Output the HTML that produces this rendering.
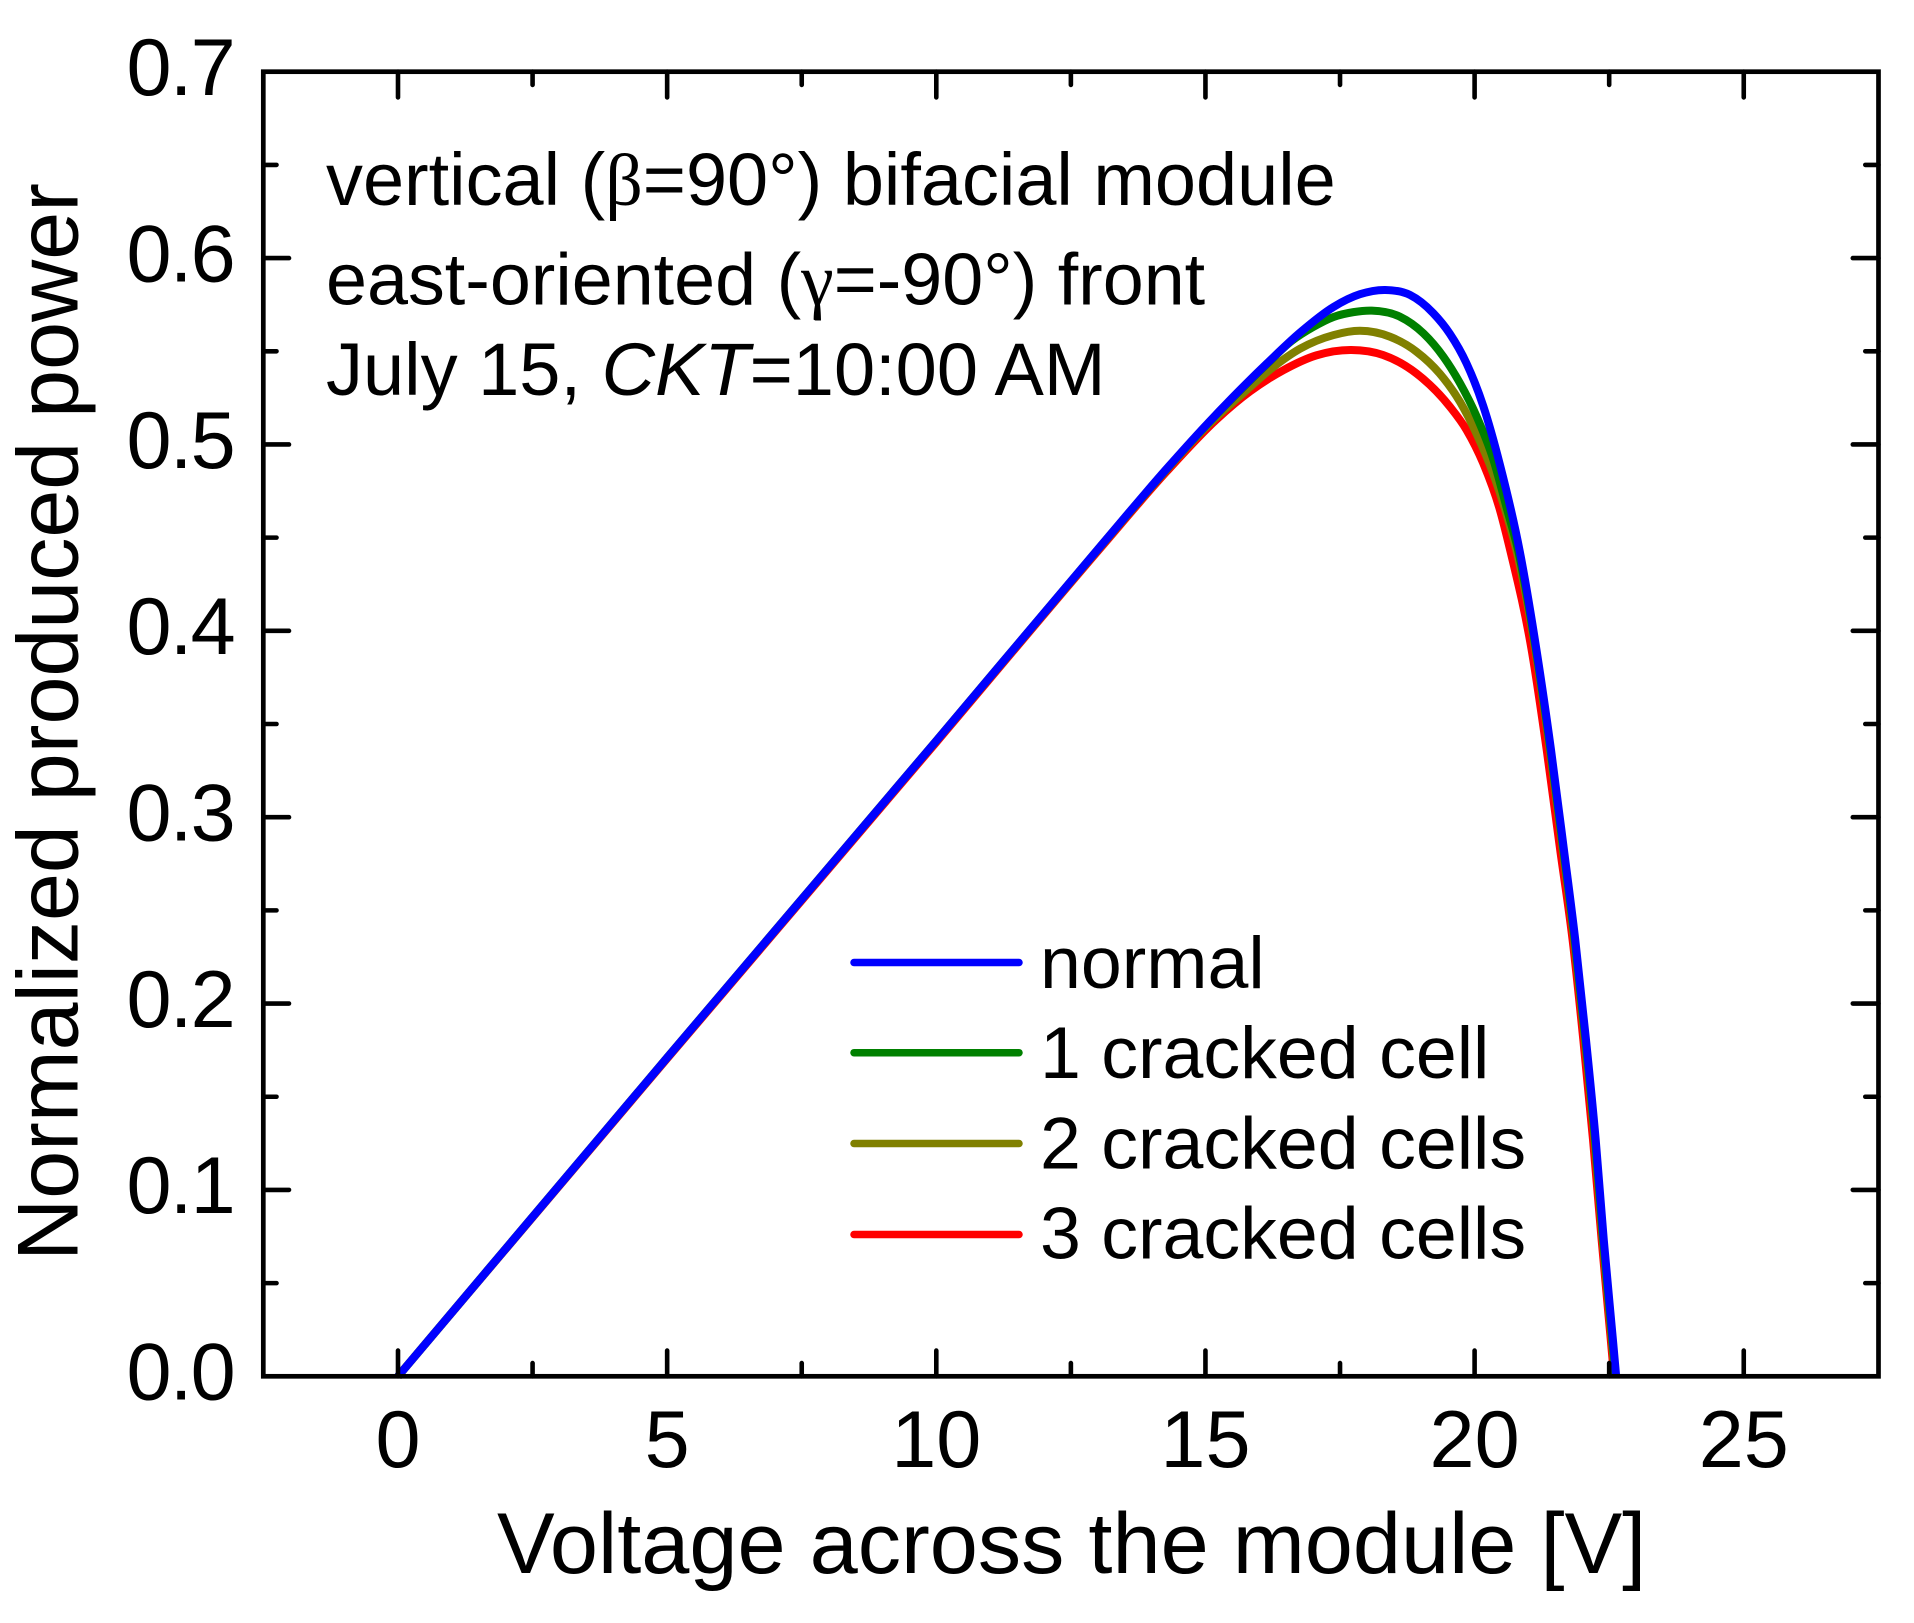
<!DOCTYPE html>
<html lang="en">
<head>
<meta charset="utf-8">
<title>Normalized produced power vs voltage</title>
<style>
html,body{margin:0;padding:0;background:#fff;width:1914px;height:1623px;overflow:hidden}
svg{display:block}
text{font-family:"Liberation Sans",Arial,sans-serif;fill:#000}
.sym{font-family:"Liberation Serif",serif}
</style>
</head>
<body>
<svg id="chart" xmlns="http://www.w3.org/2000/svg" width="1914" height="1623" viewBox="0 0 1914 1623">
  <rect x="0" y="0" width="1914" height="1623" fill="#fff"/>
  <g id="curves" fill="none" stroke-width="8" stroke-linejoin="round"></g>
  <g id="ticks" stroke="#000" stroke-width="4.6" stroke-linecap="round"></g>
  <rect x="263.3" y="71.7" width="1615.2" height="1304.6" fill="none" stroke="#000" stroke-width="4.7"/>
  <g id="tick-labels"></g>
  <text x="497" y="1573" font-size="86.5">Voltage across the module [V]</text>
  <text transform="translate(77.5,1261) rotate(-90)" font-size="86.2">Normalized produced power</text>
  <g font-size="74">
    <text x="326" y="205" font-size="73.9">vertical (<tspan class="sym">β</tspan>=90°) bifacial module</text>
    <text x="326" y="304.5" font-size="73.7">east-oriented (<tspan class="sym">γ</tspan>=-90°) front</text>
    <text x="326" y="395">July 15, <tspan font-style="italic">CKT</tspan>=10:00 AM</text>
  </g>
  <g font-size="73.5" stroke-linecap="round">
    <g>
      <line x1="854" x2="1019" y1="962.5" y2="962.5" stroke="#0000ff" stroke-width="7.5"/>
      <text x="1040" y="988">normal</text>
    </g>
    <g>
      <line x1="854" x2="1019" y1="1052.7" y2="1052.7" stroke="#008000" stroke-width="7.5"/>
      <text x="1040" y="1078">1 cracked cell</text>
    </g>
    <g>
      <line x1="854" x2="1019" y1="1143.5" y2="1143.5" stroke="#808000" stroke-width="7.5"/>
      <text x="1040" y="1168.5">2 cracked cells</text>
    </g>
    <g>
      <line x1="854" x2="1019" y1="1234.5" y2="1234.5" stroke="#ff0000" stroke-width="7.5"/>
      <text x="1040" y="1258.5">3 cracked cells</text>
    </g>
  </g>
</svg>
<script>
const xTickValues = [0, 5, 10, 15, 20, 25];
const xTickLabels = ["0", "5", "10", "15", "20", "25"];
const xMinorValues = [2.5, 7.5, 12.5, 17.5, 22.5];
const yTickValues = [0, 0.1, 0.2, 0.3, 0.4, 0.5, 0.6, 0.7];
const yTickLabels = ["0.0", "0.1", "0.2", "0.3", "0.4", "0.5", "0.6", "0.7"];
const yMinorValues = [0.05, 0.15, 0.25, 0.35, 0.45, 0.55, 0.65];

const normalV = [0, 5, 10, 13.04, 14.28, 15, 15.52, 16.14, 16.76, 17.38, 17.87, 18.34, 18.8, 19.23, 19.54, 19.85, 20.16, 20.47, 20.84, 21.15, 21.42, 21.66, 21.87, 22.07, 22.25, 22.4, 22.57, 22.63];
const normalP = [0, 0.171, 0.341, 0.4451, 0.487, 0.51, 0.5257, 0.5434, 0.5601, 0.5738, 0.5806, 0.5829, 0.5802, 0.5705, 0.5594, 0.5435, 0.5207, 0.4892, 0.4425, 0.3897, 0.336, 0.2824, 0.2342, 0.1804, 0.1268, 0.0731, 0.0195, 0];
const oneCrackV = [0, 5, 10, 13.04, 14.28, 15, 15.52, 16.14, 16.6, 17, 17.38, 17.75, 18.09, 18.61, 19.05, 19.42, 19.73, 20.04, 20.35, 20.6, 20.82, 21.14, 21.41, 21.65, 21.86, 22.06, 22.24, 22.39, 22.56, 22.62];
const oneCrackP = [0, 0.171, 0.341, 0.445, 0.4868, 0.5098, 0.5254, 0.5431, 0.5555, 0.563, 0.5684, 0.571, 0.5718, 0.5686, 0.5596, 0.5471, 0.5328, 0.5149, 0.4917, 0.4655, 0.4417, 0.3897, 0.336, 0.2824, 0.2342, 0.1804, 0.1268, 0.0731, 0.0195, 0];
const twoCrackV = [0, 5, 10, 13.04, 14.28, 15, 15.7, 16.26, 16.76, 17.38, 17.87, 18.43, 18.92, 19.35, 19.73, 20.04, 20.35, 20.6, 20.79, 21.13, 21.4, 21.64, 21.85, 22.05, 22.23, 22.38, 22.55, 22.61];
const twoCrackP = [0, 0.171, 0.341, 0.4448, 0.4865, 0.509, 0.5275, 0.5415, 0.5514, 0.5587, 0.561, 0.5578, 0.5498, 0.5381, 0.5228, 0.5055, 0.484, 0.462, 0.4417, 0.3897, 0.336, 0.2824, 0.2342, 0.1804, 0.1268, 0.0731, 0.0195, 0];
const threeCrackV = [0, 5, 10, 13.04, 14.28, 15.21, 15.83, 16.45, 17.06, 17.71, 18.3, 18.92, 19.54, 19.85, 20.16, 20.47, 20.66, 21.06, 21.34, 21.59, 21.82, 22.02, 22.2, 22.36, 22.53, 22.59];
const threeCrackP = [0, 0.1705, 0.3402, 0.4441, 0.4855, 0.5135, 0.5285, 0.5399, 0.5478, 0.5507, 0.548, 0.5381, 0.5203, 0.5078, 0.4899, 0.4649, 0.4434, 0.3897, 0.336, 0.2824, 0.2342, 0.1804, 0.1268, 0.0731, 0.0195, 0];

const SVGNS = "http://www.w3.org/2000/svg";
const X0 = 398, XK = 53.83, Y0 = 1376.3, YK = 1863.7;
function scaleX(v) { return X0 + XK * v; }
function scaleY(p) { return Y0 - YK * p; }

function curvePath(vs, ps) {
  const n = vs.length;
  const xs = vs.map(scaleX), ys = ps.map(scaleY);
  const h = [], d = [];
  for (let i = 0; i < n - 1; i++) {
    h.push(xs[i + 1] - xs[i]);
    d.push((ys[i + 1] - ys[i]) / h[i]);
  }
  const m = [d[0]];
  for (let i = 1; i < n - 1; i++) {
    m.push((h[i] * d[i - 1] + h[i - 1] * d[i]) / (h[i - 1] + h[i]));
  }
  m.push(d[n - 2]);
  let path = "M" + xs[0].toFixed(2) + " " + ys[0].toFixed(2);
  for (let i = 0; i < n - 1; i++) {
    const t = h[i] / 3;
    path += "C" + (xs[i] + t).toFixed(2) + " " + (ys[i] + m[i] * t).toFixed(2) + " " +
      (xs[i + 1] - t).toFixed(2) + " " + (ys[i + 1] - m[i + 1] * t).toFixed(2) + " " +
      xs[i + 1].toFixed(2) + " " + ys[i + 1].toFixed(2);
  }
  return path;
}

const curvesGroup = document.getElementById("curves");
function addCurve(name, vs, ps, color) {
  const el = document.createElementNS(SVGNS, "path");
  
  
  el.setAttribute("d", curvePath(vs, ps));
  el.setAttribute("stroke", color);
  curvesGroup.appendChild(el);
}
addCurve("curve-3-cracked-cells", threeCrackV, threeCrackP, "#ff0000");
addCurve("curve-2-cracked-cells", twoCrackV, twoCrackP, "#808000");
addCurve("curve-1-cracked-cell", oneCrackV, oneCrackP, "#008000");
addCurve("curve-normal", normalV, normalP, "#0000ff");

const ticksGroup = document.getElementById("ticks");
const LEFT = 263.3, RIGHT = 1878.5, TOP = 71.7, BOTTOM = 1376.3;
const CAP = 2.3;
function addTick(name, x1, y1, x2, y2) {
  const el = document.createElementNS(SVGNS, "line");
  
  
  el.setAttribute("x1", x1);
  el.setAttribute("y1", y1);
  el.setAttribute("x2", x2);
  el.setAttribute("y2", y2);
  ticksGroup.appendChild(el);
}
function addXTick(v, len, kind) {
  const x = scaleX(v);
  addTick("x-" + kind + "-tick-bottom", x, BOTTOM, x, BOTTOM - len + CAP);
  addTick("x-" + kind + "-tick-top", x, TOP, x, TOP + len - CAP);
}
function addYTick(p, len, kind) {
  const y = scaleY(p);
  addTick("y-" + kind + "-tick-left", LEFT, y, LEFT + len - CAP, y);
  addTick("y-" + kind + "-tick-right", RIGHT, y, RIGHT - len + CAP, y);
}
xTickValues.forEach(v => addXTick(v, 28, "major"));
xMinorValues.forEach(v => addXTick(v, 15.5, "minor"));
yTickValues.slice(1, -1).forEach(p => addYTick(p, 28, "major"));
yMinorValues.forEach(p => addYTick(p, 15.5, "minor"));

const labelsGroup = document.getElementById("tick-labels");
function addLabel(name, x, y, anchor, str, spacing) {
  const el = document.createElementNS(SVGNS, "text");
  
  
  el.setAttribute("x", x);
  el.setAttribute("y", y);
  el.setAttribute("text-anchor", anchor);
  el.setAttribute("font-size", "81");
  el.setAttribute("letter-spacing", spacing);
  el.textContent = str;
  labelsGroup.appendChild(el);
}
xTickValues.forEach((v, i) => addLabel("x-tick-label", scaleX(v), 1467, "middle", xTickLabels[i], "0"));
yTickValues.forEach((p, i) => addLabel("y-tick-label", 234, scaleY(p) + 23.3, "end", yTickLabels[i], "-1.7"));
</script>
</body>
</html>
